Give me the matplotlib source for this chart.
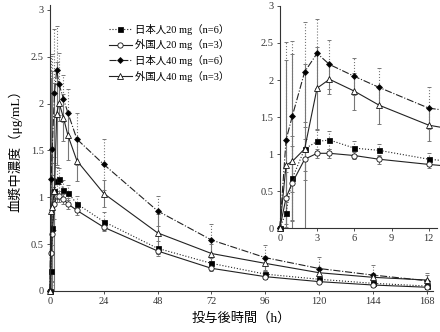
import matplotlib
matplotlib.use("Agg")
import matplotlib.pyplot as plt
import numpy as np

plt.rcParams['font.family'] = ['Liberation Serif', 'Noto Sans CJK JP', 'DejaVu Sans']

# Data
hours = [0, 0.5, 1, 2, 3, 4, 6, 8, 12, 24, 48, 72, 96, 120, 144, 168]
jp20 = [0, 0.21, 0.67, 1.07, 1.17, 1.19, 1.08, 1.05, 0.93, 0.74, 0.455, 0.295, 0.18, 0.125, 0.082, 0.053]
jp20_sd = [0, 0.20, 0.57, 0.30, 0.15, 0.12, 0.10, 0.08, 0.08, 0.10, 0.08, 0.06, 0.04, 0.03, 0.02, 0.02]
fr20 = [0, 0.41, 0.61, 0.93, 1.01, 1.01, 0.98, 0.93, 0.86, 0.68, 0.427, 0.242, 0.153, 0.10, 0.064, 0.04]
fr20_sd = [0, 0.35, 0.50, 0.28, 0.06, 0.06, 0.05, 0.06, 0.05, 0.03, 0.03, 0.03, 0.02, 0.02, 0.02, 0.02]
jp40 = [0, 1.19, 1.51, 2.11, 2.36, 2.21, 2.05, 1.90, 1.62, 1.35, 0.854, 0.544, 0.356, 0.24, 0.17, 0.11]
jp40_sd = [0, 1.32, 1.02, 0.68, 0.47, 0.33, 0.25, 0.26, 0.28, 0.27, 0.16, 0.17, 0.14, 0.12, 0.11, 0.08]
fr40 = [0, 0.85, 0.90, 1.07, 1.89, 2.01, 1.85, 1.66, 1.39, 1.04, 0.62, 0.40, 0.295, 0.195, 0.146, 0.117]
fr40_sd = [0, 1.42, 1.45, 1.15, 0.55, 0.20, 0.25, 0.26, 0.22, 0.14, 0.20, 0.10, 0.08, 0.06, 0.05, 0.05]

labels = ['日本人20 mg（n=6）', '外国人20 mg（n=3）', '日本人40 mg（n=6）', '外国人40 mg（n=3）']
main_xticks = [0, 24, 48, 72, 96, 120, 144, 168]
main_yticks = [0, 0.5, 1, 1.5, 2, 2.5, 3]
inset_xticks = [0, 3, 6, 9, 12]
inset_yticks = [0, 0.5, 1, 1.5, 2, 2.5, 3]
ytick_labels = ['0', '0.5', '1', '1.5', '2', '2.5', '3']

series = [
    (jp20, jp20_sd, dict(ls=':', marker='s', mfc='black', ms=3.6), ':'),
    (fr20, fr20_sd, dict(ls='-', marker='o', mfc='white', ms=3.8), '-'),
    (jp40, jp40_sd, dict(ls='-.', marker='D', mfc='black', ms=3.0), ':'),
    (fr40, fr40_sd, dict(ls='-', marker='^', mfc='white', ms=3.8), '-'),
]

fig = plt.figure(figsize=(4.4, 3.32), dpi=100)
ax = fig.add_axes([0.1136, 0.1235, 0.870, 0.862])
axin = fig.add_axes([0.636, 0.313, 0.357, 0.669])

def draw(a, lw=0.8):
    handles = []
    for (y, sd, st, els), lab in zip(series, labels):
        eb = a.errorbar(hours, y, yerr=sd, fmt='none', ecolor='#777777', elinewidth=0.8,
                        capsize=1.6, capthick=0.7, zorder=2)
        for c in eb[2]:
            c.set_linestyle(els)
        h, = a.plot(hours, y, color='#222222', lw=lw, mec='#111111', mew=0.6,
                    clip_on=False, zorder=3, label=lab, **st)
        handles.append(h)
    for s in ['top', 'right']:
        a.spines[s].set_visible(False)
    for s in ['left', 'bottom']:
        a.spines[s].set_linewidth(0.8)
        a.spines[s].set_color('#333333')
    a.tick_params(axis='both', labelsize=7.5, length=2.5, width=0.6, direction='out', pad=2, colors='#333333')
    return handles

handles = draw(ax)
ax.set_xlim(0, 170.7)
ax.set_ylim(0, 3.053)
ax.set_xticks(main_xticks)
ax.set_yticks(main_yticks)
ax.set_yticklabels(ytick_labels)
ax.set_xlabel('投与後時間（h）', fontsize=9.5, labelpad=4)
ax.set_ylabel('血漿中濃度（μg/mL）', fontsize=9.5, labelpad=6)
ax.legend(handles=handles, loc='upper left', bbox_to_anchor=(0.135, 0.96), frameon=False,
          fontsize=7.5, handlelength=2.2, handletextpad=0.3, labelspacing=0.45, borderpad=0.2)

axin.set_facecolor('white')
draw(axin)
axin.set_xlim(0, 12.66)
axin.set_ylim(0, 3.0)
axin.set_xticks(inset_xticks)
axin.set_yticks(inset_yticks)
axin.set_yticklabels(ytick_labels)

fig.savefig('out.png', dpi=100)
